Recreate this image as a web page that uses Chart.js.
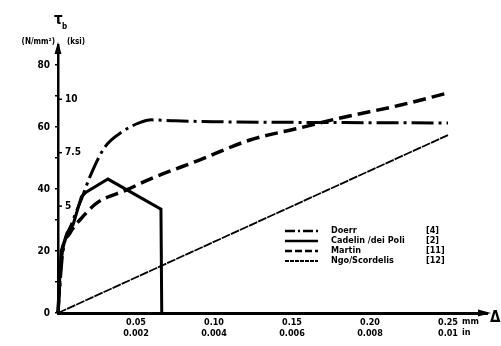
<!DOCTYPE html>
<html><head><meta charset="utf-8">
<script src="https://cdn.jsdelivr.net/npm/chart.js@4"></script>
<style>html,body{margin:0;padding:0;background:#fff}#wrap{width:501px;height:346px}</style>
</head><body><div id="wrap"><canvas id="c"></canvas></div>
<script>
// ---- data (slip in mm, bond stress in N/mm²) ----
const seriesNames = ['Doerr', 'Cadelin /dei Poli', 'Martin', 'Ngo/Scordelis'];
const seriesRefs  = ['[4]', '[2]', '[11]', '[12]'];

const doerrX = [0, 0.003, 0.009, 0.016, 0.0205, 0.030, 0.041, 0.052, 0.060, 0.075, 0.10, 0.15, 0.20, 0.25];
const doerrY = [0, 19, 29, 38, 44, 53.5, 58.4, 61.3, 62.3, 62.0, 61.7, 61.5, 61.4, 61.3];

const cadelinX = [0, 0.002, 0.0058, 0.0096, 0.015, 0.018, 0.032, 0.066, 0.0665];
const cadelinY = [0, 20, 25.8, 28.4, 37.5, 39, 43.2, 33.5, 0];

const martinX = [0, 0.002, 0.0077, 0.014, 0.025, 0.044, 0.059, 0.091, 0.123, 0.155, 0.181, 0.219, 0.25];
const martinY = [0, 17, 25.8, 30, 35.5, 39.7, 43.2, 49.4, 55.8, 59.7, 62.9, 67, 71];

const ngoX = [0, 0.25];
const ngoY = [0, 57.4];

const xTickMm = [0.05, 0.10, 0.15, 0.20, 0.25];
const xTickIn = ['0.002', '0.004', '0.006', '0.008', '0.01'];
const yTicks  = [0, 20, 40, 60, 80];
const ksiTicks = [5, 7.5, 10];
const KSI_TO_NMM = 6.895;

const FONT = '"DejaVu Sans Condensed", "DejaVu Sans", sans-serif';
const pts = (xs, ys) => xs.map((x, i) => ({x: x, y: ys[i]}));

const styles = [
  {dash: [22, 5, 3, 5], width: 3},
  {dash: [], width: 3},
  {dash: [13, 6], width: 3.5},
  {dash: [9, 1], width: 1.8}
];
const dataArrays = [[doerrX, doerrY], [cadelinX, cadelinY], [martinX, martinY], [ngoX, ngoY]];

const datasets = dataArrays.map((d, i) => ({
  label: seriesNames[i],
  data: pts(d[0], d[1]),
  borderColor: '#000',
  borderWidth: styles[i].width,
  borderDash: styles[i].dash,
  pointRadius: 0,
  fill: false,
  clip: false,
  cubicInterpolationMode: (i === 0 || i === 2) ? 'monotone' : 'default',
  tension: 0
}));

const decor = {
  id: 'decor',
  afterDraw(chart) {
    const ctx = chart.ctx, xs = chart.scales.x, ys = chart.scales.y;
    const a = chart.chartArea;
    const x0 = xs.getPixelForValue(0), y0 = ys.getPixelForValue(0);
    ctx.save();
    ctx.fillStyle = '#000'; ctx.strokeStyle = '#000';
    // arrows
    ctx.beginPath(); ctx.moveTo(x0, a.top - 3); ctx.lineTo(x0 - 3.5, a.top + 9); ctx.lineTo(x0 + 3.5, a.top + 9); ctx.closePath(); ctx.fill();
    ctx.beginPath(); ctx.moveTo(a.right + 4, y0); ctx.lineTo(a.right - 9, y0 - 3.5); ctx.lineTo(a.right - 9, y0 + 3.5); ctx.closePath(); ctx.fill();
    // ksi ticks & labels
    ctx.font = 'bold 10px ' + FONT; ctx.textBaseline = 'middle'; ctx.textAlign = 'left';
    ctx.lineWidth = 1.5;
    ksiTicks.forEach(k => {
      const y = ys.getPixelForValue(k * KSI_TO_NMM);
      ctx.beginPath(); ctx.moveTo(x0, y); ctx.lineTo(x0 + 4, y); ctx.stroke();
      ctx.fillText(String(k), x0 + 7, y);
    });
    // axis titles
    ctx.font = 'bold 15px ' + FONT; ctx.textBaseline = 'alphabetic';
    ctx.fillText('τ', 54, 24);
    ctx.font = 'bold 8px ' + FONT; ctx.fillText('b', 62, 29);
    ctx.font = 'bold 8px ' + FONT; ctx.textAlign = 'right';
    ctx.fillText('(N/mm²)', 55, 44);
    ctx.textAlign = 'left';
    ctx.fillText('(ksi)', 67, 44);
    ctx.font = 'bold 15px ' + FONT;
    ctx.fillText('Δ', 490, 322);
    // units after last tick
    const xl = xs.getPixelForValue(xTickMm[xTickMm.length - 1]);
    ctx.font = 'bold 9px ' + FONT; ctx.textBaseline = 'middle';
    ctx.fillText('mm', xl + 14, 322);
    ctx.fillText('in', xl + 14, 333);
    // legend
    const lx = 285, lw = 33, tx = 331, rx = 426;
    datasets.forEach((ds, i) => {
      const y = 231 + i * 10;
      ctx.lineWidth = i === 3 ? 1.8 : 2.6;
      ctx.setLineDash(i === 0 ? [10, 3, 2, 3] : i === 2 ? [7, 3] : i === 3 ? [4, 1] : ds.borderDash);
      ctx.beginPath(); ctx.moveTo(lx, y); ctx.lineTo(lx + lw, y); ctx.stroke();
      ctx.setLineDash([]);
      ctx.font = 'bold 9px ' + FONT;
      ctx.fillText(seriesNames[i], tx, y);
      ctx.fillText(seriesRefs[i], rx, y);
    });
    ctx.restore();
  }
};

new Chart(document.getElementById('c'), {
  type: 'line',
  data: {datasets: datasets},
  plugins: [decor],
  options: {
    responsive: true, maintainAspectRatio: false, animation: false,
    layout: {padding: {top: 45, right: 14, bottom: 0, left: 0}},
    plugins: {legend: {display: false}, tooltip: {enabled: false}},
    scales: {
      x: {
        type: 'linear', min: 0, max: 0.275,
        afterFit(s) { s.height = 33; },
        afterBuildTicks(s) { s.ticks = xTickMm.map(v => ({value: v})); },
        grid: {display: false},
        border: {display: true, color: '#000', width: 3},
        ticks: {
          color: '#000', padding: -4, maxRotation: 0, autoSkip: false,
          font: {family: FONT, size: 9, weight: 'bold', lineHeight: 1.2},
          callback: (v) => {
            const i = xTickMm.findIndex(t => Math.abs(t - v) < 1e-9);
            return i < 0 ? '' : [xTickMm[i].toFixed(2), xTickIn[i]];
          }
        }
      },
      y: {
        type: 'linear', min: 0, max: 86.45,
        afterFit(s) { s.width = 58; },
        afterBuildTicks(s) {
          const t = [];
          for (let v = 0; v <= 80; v += 10) t.push({value: v});
          s.ticks = t;
        },
        grid: {display: true, drawOnChartArea: false, drawTicks: true, tickLength: 3, color: '#000', lineWidth: 1.5},
        border: {display: true, color: '#000', width: 2.5},
        ticks: {
          color: '#000', padding: 5, autoSkip: false,
          font: {family: FONT, size: 10, weight: 'bold'},
          callback: (v) => yTicks.includes(v) ? String(v) : ''
        }
      }
    }
  }
});
</script></body></html>
